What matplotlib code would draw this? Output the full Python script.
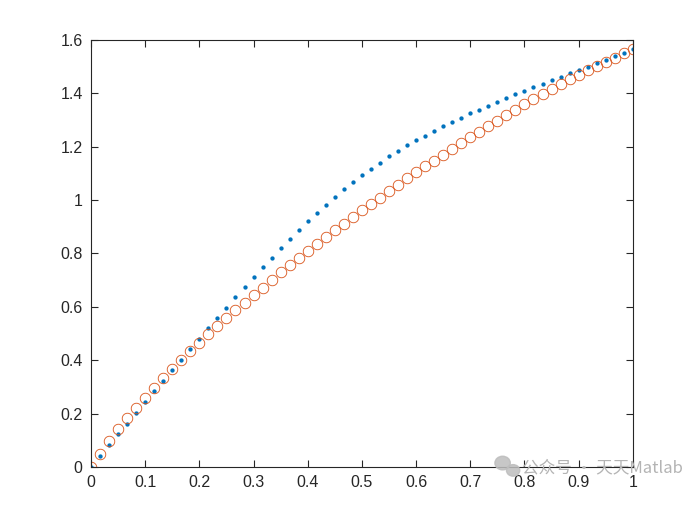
import matplotlib
matplotlib.use("Agg")
import matplotlib.pyplot as plt
from matplotlib.patches import Ellipse
import numpy as np

plt.rcParams['font.family'] = ['Liberation Sans', 'DejaVu Sans']

n_points = 61
x = np.linspace(0, 1, n_points)

blue_y = [0.000, 0.041, 0.081, 0.122, 0.162, 0.202, 0.244, 0.284, 0.322, 0.363,
          0.402, 0.442, 0.479, 0.520, 0.558, 0.597, 0.636, 0.674, 0.711, 0.748,
          0.784, 0.819, 0.854, 0.888, 0.921, 0.953, 0.983, 1.012, 1.040, 1.068,
          1.094, 1.118, 1.140, 1.164, 1.184, 1.205, 1.224, 1.241, 1.259, 1.276,
          1.293, 1.309, 1.325, 1.339, 1.354, 1.368, 1.381, 1.396, 1.410, 1.423,
          1.436, 1.449, 1.462, 1.475, 1.489, 1.500, 1.513, 1.525, 1.539, 1.551,
          1.565]

orange_y = [0.000, 0.050, 0.097, 0.141, 0.182, 0.221, 0.257, 0.297, 0.332, 0.366,
            0.401, 0.433, 0.463, 0.497, 0.528, 0.558, 0.588, 0.616, 0.643, 0.672,
            0.701, 0.729, 0.756, 0.783, 0.808, 0.834, 0.861, 0.888, 0.912, 0.938,
            0.962, 0.985, 1.009, 1.033, 1.057, 1.082, 1.104, 1.127, 1.148, 1.170,
            1.193, 1.215, 1.236, 1.256, 1.278, 1.297, 1.318, 1.339, 1.359, 1.379,
            1.398, 1.416, 1.434, 1.453, 1.469, 1.486, 1.502, 1.517, 1.534, 1.550,
            1.565]

xticks = [0, 0.1, 0.2, 0.3, 0.4, 0.5, 0.6, 0.7, 0.8, 0.9, 1]
xtick_labels = ['0', '0.1', '0.2', '0.3', '0.4', '0.5', '0.6', '0.7', '0.8', '0.9', '1']
yticks = [0, 0.2, 0.4, 0.6, 0.8, 1.0, 1.2, 1.4, 1.6]
ytick_labels = ['0', '0.2', '0.4', '0.6', '0.8', '1', '1.2', '1.4', '1.6']

fig = plt.figure(figsize=(7, 5.25), dpi=100)
ax = fig.add_axes([0.13, 0.1105, 0.774, 0.8135])

ax.plot(x, blue_y, linestyle='none', marker='.', markersize=4.2, color='#0072BD')
ax.plot(x, orange_y, linestyle='none', marker='o', markersize=7.6,
        markerfacecolor='none', markeredgecolor='#D95319', markeredgewidth=0.6)

ax.set_xlim(0, 1)
ax.set_ylim(0, 1.6)
ax.set_xticks(xticks)
ax.set_xticklabels(xtick_labels)
ax.set_yticks(yticks)
ax.set_yticklabels(ytick_labels)
ax.tick_params(direction='in', length=5, width=0.8, labelsize=11.5, colors='#262626',
               top=True, right=True, pad=6)
for s in ax.spines.values():
    s.set_color('#262626')
    s.set_linewidth(0.8)

# watermark (WeChat-like icon + text)
fig.patches.append(Ellipse((0.718, 0.118), 0.022, 0.026, transform=fig.transFigure,
                           color='#bdbdbd', alpha=0.85))
fig.patches.append(Ellipse((0.733, 0.104), 0.019, 0.022, transform=fig.transFigure,
                           color='#bdbdbd', alpha=0.85))
fig.text(0.745, 0.109, '公众号 · 天天Matlab', fontsize=12, color='#b4b4b4',
         family=['Noto Sans CJK SC', 'DejaVu Sans'], va='center', ha='left')

fig.savefig('out.png', dpi=100)
